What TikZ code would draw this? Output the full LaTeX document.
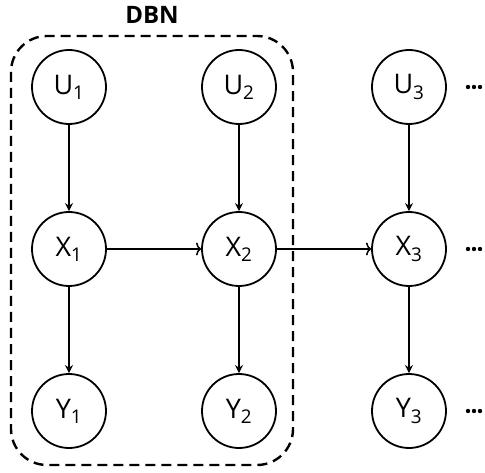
\documentclass[tikz,border=0pt]{standalone}
\usepackage{fontspec}
\setmainfont{Open Sans}
\usetikzlibrary{arrows.meta}
\begin{document}
\begin{tikzpicture}[x=1pt,y=-1pt,
  var/.style={circle,draw,line width=1.8pt,minimum size=74pt,inner sep=0pt,font=\fontsize{27}{30}\selectfont},
  down/.style={line width=1.5pt,-{Stealth[length=8pt,width=8pt]}},
  side/.style={line width=1.5pt,-{To[length=5pt,width=13pt,line width=1.5pt]}}]
\useasboundingbox (0,0) rectangle (485,473);
% dashed frame of one time slice
\draw[line width=2.4pt,dash pattern=on 10pt off 6pt,rounded corners=36pt] (11,36) rectangle (293,465);
\node[font=\fontsize{24}{27}\selectfont\bfseries] (dbn) at (152,15) {DBN};
% variables
\foreach \i/\x in {1/69,2/239,3/409}{
  \node[var] (u\i) at (\x,87) {U\textsubscript{\i}};
  \node[var] (x\i) at (\x,249) {X\textsubscript{\i}};
  \node[var] (y\i) at (\x,411) {Y\textsubscript{\i}};
  \draw[down] (u\i) -- (x\i);
  \draw[down] (x\i) -- (y\i);
}
\draw[side] (x1) -- (x2);
\draw[side] (x2) -- (x3);
% continuation marks
\foreach \r/\y in {a/87,b/249,c/411}{
  \coordinate (dots\r) at (474,\y);
  \foreach \k in {-6,0,6} \fill ([xshift=\k pt]dots\r) circle (2.2pt);
}
\end{tikzpicture}
\end{document}
